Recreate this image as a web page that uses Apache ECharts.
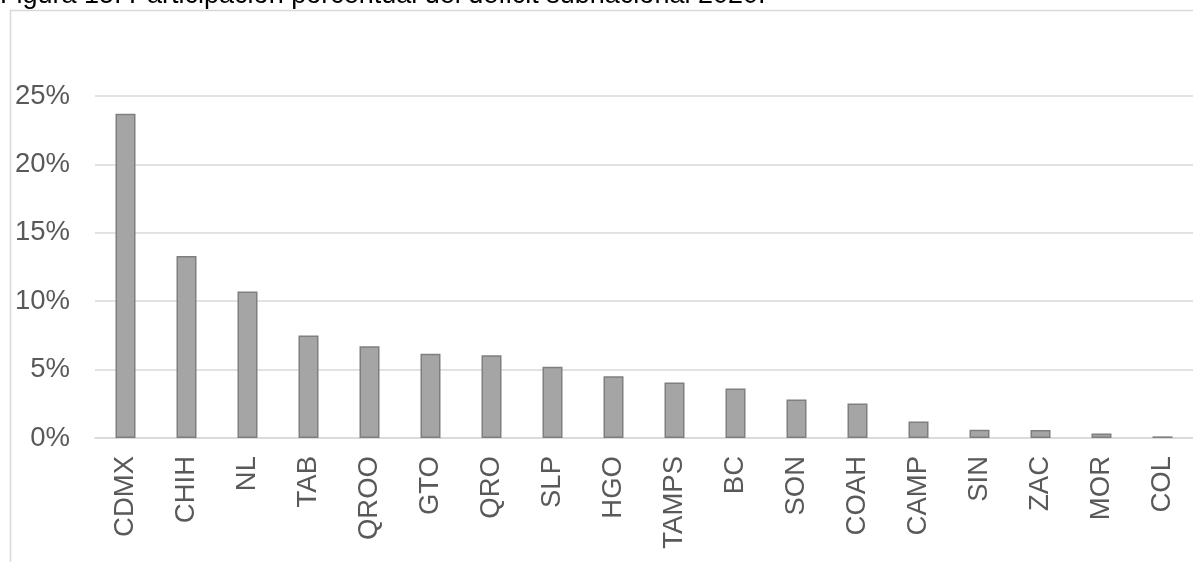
<!DOCTYPE html>
<html>
<head>
<meta charset="utf-8">
<script src="https://cdn.jsdelivr.net/npm/echarts@6/dist/echarts.min.js"></script>
<style>
  html, body { margin: 0; padding: 0; background: #fff; }
  #chart { width: 1193px; height: 562px; }
</style>
</head>
<body>
<div id="chart"></div>
<script>
// Participación porcentual del déficit subnacional por entidad, 2020 (%)
const estados = ['CDMX', 'CHIH', 'NL', 'TAB', 'QROO', 'GTO', 'QRO', 'SLP', 'HGO',
  'TAMPS', 'BC', 'SON', 'COAH', 'CAMP', 'SIN', 'ZAC', 'MOR', 'COL'];
const participacion = [23.7, 13.3, 10.7, 7.5, 6.7, 6.15, 6.05, 5.2, 4.52,
  4.05, 3.62, 2.82, 2.52, 1.2, 0.6, 0.58, 0.33, 0.12];
const ejeY = { min: 0, max: 25, interval: 5 };
const titulo = 'Figura 15. Participación porcentual del déficit subnacional 2020.';

const chart = echarts.init(document.getElementById('chart'), null, { renderer: 'canvas' });
const fuente = '"Liberation Sans", Arial, sans-serif';

chart.setOption({
  animation: false,
  backgroundColor: '#ffffff',
  graphic: [
    {
      type: 'rect',
      shape: { x: 10.5, y: 10.5, width: 1400, height: 700 },
      style: { fill: 'none', stroke: '#d9d9d9', lineWidth: 1.5 },
      silent: true
    },
    {
      type: 'text',
      left: 0,
      top: -18,
      style: { text: titulo, font: '27px ' + fuente, fill: '#000000' },
      silent: true
    }
  ],
  grid: { left: 95, right: -7, top: 96, bottom: 124, containLabel: false },
  xAxis: {
    type: 'category',
    data: estados,
    axisLine: { lineStyle: { color: '#d9d9d9', width: 1.5 } },
    axisTick: { show: false },
    axisLabel: {
      rotate: 90,
      margin: 18,
      interval: 0,
      color: '#595959',
      fontSize: 27.5,
      fontFamily: fuente
    }
  },
  yAxis: {
    type: 'value',
    min: ejeY.min,
    max: ejeY.max,
    interval: ejeY.interval,
    axisLine: { show: false },
    axisTick: { show: false },
    splitLine: { lineStyle: { color: '#d9d9d9', width: 1.5 } },
    axisLabel: {
      formatter: '{value}%',
      margin: 25,
      color: '#595959',
      fontSize: 27.5,
      fontFamily: fuente
    }
  },
  series: [{
    type: 'bar',
    data: participacion,
    barWidth: 20,
    itemStyle: { color: '#a5a5a5', borderColor: '#7f7f7f', borderWidth: 1.5 }
  }]
});
</script>
</body>
</html>
